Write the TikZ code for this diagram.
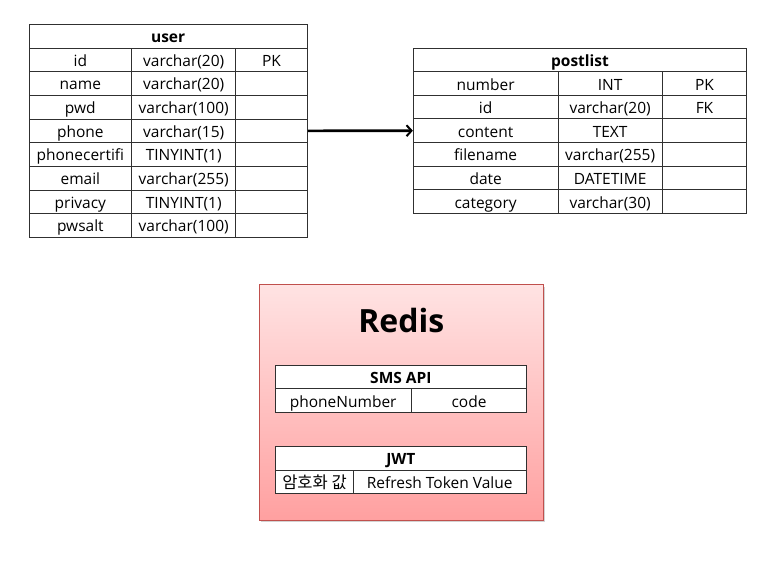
\documentclass[tikz,border=0pt]{standalone}
\usepackage{fontspec}
\setmainfont{Open Sans}
\newfontfamily\krfont{Noto Sans CJK KR}
\usetikzlibrary{arrows.meta,shadows}
\definecolor{gridline}{HTML}{303030}
\definecolor{redtop}{HTML}{FFE3E3}
\definecolor{redbot}{HTML}{FFA0A0}
\definecolor{redborder}{HTML}{C0504D}
\begin{document}
\begin{tikzpicture}[x=1pt,y=1pt,
  cell/.style={draw=gridline,line width=0.9pt,rectangle,inner sep=0pt,fill=white,
    font=\fontsize{15.5}{17}\selectfont,text=black,text height=15pt,text depth=2pt},
  hdr/.style={cell,font=\fontsize{15.5}{17}\selectfont\bfseries},
  link/.style={line width=2.6pt,-{Straight Barb[length=5pt,width=11pt,line width=2pt]}}]
\useasboundingbox (0,0) rectangle (782,-566);
% ---------------- user table
\node[hdr,minimum width=278.3,minimum height=24] (uh) at (168.15,-36) {user};
\foreach \a/\b/\c [count=\i] in {id/varchar(20)/PK,name/varchar(20)/,pwd/varchar(100)/,phone/varchar(15)/,phonecertifi/TINYINT(1)/,email/varchar(255)/,privacy/TINYINT(1)/,pwsalt/varchar(100)/}{
  \pgfmathsetmacro{\yy}{-(48+(\i-0.5)*23.66)}
  \node[cell,minimum width=102.7,minimum height=23.66] (u\i a) at (80.35,\yy) {\a};
  \node[cell,minimum width=104,minimum height=23.66] (u\i b) at (183.7,\yy) {\b};
  \node[cell,minimum width=71.6,minimum height=23.66] (u\i c) at (271.5,\yy) {\c};
}
% ---------------- postlist table
\node[hdr,minimum width=333.4,minimum height=23.4] (ph) at (580,-60) {postlist};
\foreach \a/\b/\c [count=\i] in {number/INT/PK,id/varchar(20)/FK,content/TEXT/,filename/varchar(255)/,date/DATETIME/,category/varchar(30)/}{
  \pgfmathsetmacro{\yy}{-(71.7+(\i-0.5)*23.6)}
  \node[cell,minimum width=144.7,minimum height=23.6] (p\i a) at (485.65,\yy) {\a};
  \node[cell,minimum width=104.3,minimum height=23.6] (p\i b) at (610.15,\yy) {\b};
  \node[cell,minimum width=84.4,minimum height=23.6] (p\i c) at (704.5,\yy) {\c};
}
% ---------------- connector
\draw[link] (u4c.east) -- (p3a.west);
% ---------------- Redis box
\node[draw=redborder,line width=0.9pt,top color=redtop,bottom color=redbot,
  minimum width=284,minimum height=235.5,inner sep=0pt,
  drop shadow={shadow xshift=2pt,shadow yshift=-2pt,opacity=0.35}] (redis) at (401.3,-402.25) {};
\node[font=\fontsize{32}{36}\selectfont\bfseries] (rtitle) at (401.3,-320) {Redis};
% SMS API
\node[hdr,minimum width=251.7,minimum height=23.7] (sh) at (400.85,-376.85) {SMS API};
\node[cell,minimum width=136.3,minimum height=24] (s1) at (343.15,-400.7) {phoneNumber};
\node[cell,minimum width=115.4,minimum height=24] (s2) at (469,-400.7) {code};
% JWT
\node[hdr,minimum width=250.3,minimum height=24] (jh) at (400.85,-458) {JWT};
\node[cell,minimum width=77.6,minimum height=23.7] (j1) at (314.5,-481.85) {\krfont\fontsize{16.5}{18}\selectfont 암호화 값};
\node[cell,minimum width=172.7,minimum height=23.7] (j2) at (439.65,-481.85) {Refresh Token Value};
\end{tikzpicture}
\end{document}
